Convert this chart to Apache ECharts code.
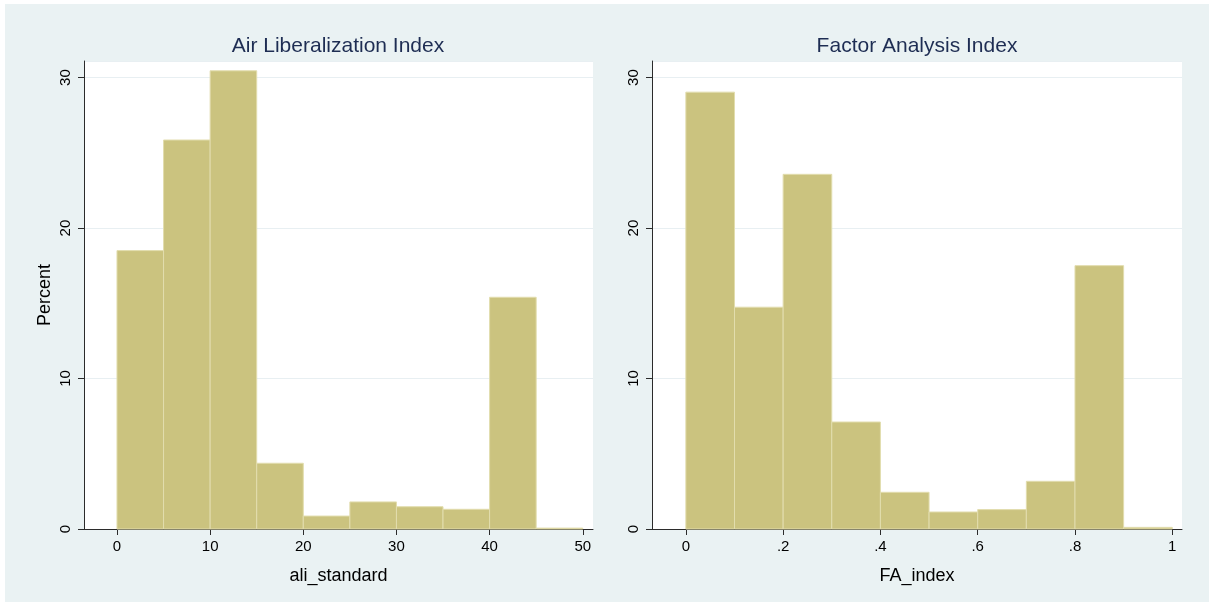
<!DOCTYPE html>
<html>
<head>
<meta charset="utf-8">
<script src="https://cdn.jsdelivr.net/npm/echarts@6/dist/echarts.min.js"></script>
<style>
html,body{margin:0;padding:0;background:#fff;}
#c{width:1209px;height:604px;}
</style>
</head>
<body>
<div id="c"></div>
<script>
// Left panel: ali_standard, bin width 5
var aliBinStarts = [0, 5, 10, 15, 20, 25, 30, 35, 40, 45];
var aliPercent   = [18.5, 25.85, 30.45, 4.37, 0.86, 1.8, 1.48, 1.31, 15.4, 0.06];
var aliBinWidth = 5;
var aliTicks = [0, 10, 20, 30, 40, 50];

// Right panel: FA_index, bin width 0.1
var faBinStarts = [0, 0.1, 0.2, 0.3, 0.4, 0.5, 0.6, 0.7, 0.8, 0.9];
var faPercent   = [29.03, 14.74, 23.57, 7.11, 2.44, 1.13, 1.29, 3.17, 17.5, 0.11];
var faBinWidth = 0.1;
var faTicks = [0, 0.2, 0.4, 0.6, 0.8, 1];
var faTickLabels = ['0', '.2', '.4', '.6', '.8', '1'];

var yTicks = [0, 10, 20, 30];

var titles = ['Air Liberalization Index', 'Factor Analysis Index'];
var xNames = ['ali_standard', 'FA_index'];
var yName = 'Percent';

var FONT = '"Liberation Sans", Arial, Helvetica, sans-serif';
var barFill = '#CBC37F';
var barEdge = '#E2DDAE';
var bg = '#EAF2F3';
var axisColor = '#2b2b2b';

function histData(starts, vals, w) {
  return starts.map(function (s, i) { return [s, s + w, vals[i]]; });
}

function renderBin(params, api) {
  var p0 = api.coord([api.value(0), api.value(2)]);
  var p1 = api.coord([api.value(1), 0]);
  return {
    type: 'rect',
    shape: { x: p0[0], y: p0[1], width: p1[0] - p0[0], height: p1[1] - p0[1] },
    style: { fill: barFill, stroke: barEdge, lineWidth: 1 }
  };
}

function yAxisCfg(gridIndex, showName) {
  return {
    type: 'value', gridIndex: gridIndex, min: 0, max: 31.1, interval: 10,
    name: showName ? yName : '', nameLocation: 'middle', nameGap: 30,
    nameTextStyle: { fontFamily: FONT, fontSize: 18, color: '#000' },
    axisLine: { show: true, onZero: false, lineStyle: { color: axisColor, width: 1 } },
    axisTick: { show: true, length: 6, lineStyle: { color: axisColor } },
    axisLabel: {
      rotate: 90, margin: 11, fontFamily: FONT, fontSize: 15, color: '#000',
      showMaxLabel: false,
      formatter: function (v) { return yTicks.indexOf(v) >= 0 ? String(v) : ''; }
    },
    splitLine: { show: true, lineStyle: { color: '#E8EFF2', width: 1 } }
  };
}

function xAxisCfg(gridIndex, min, max, interval, ticks, labels, name) {
  return {
    type: 'value', gridIndex: gridIndex, min: min, max: max,
    interval: interval,
    name: name, nameLocation: 'middle', nameGap: 38,
    nameTextStyle: { fontFamily: FONT, fontSize: 18, color: '#000' },
    axisLine: { show: true, onZero: false, lineStyle: { color: axisColor, width: 1 } },
    axisTick: { show: true, length: 6, lineStyle: { color: axisColor },
      customValues: ticks },
    axisLabel: {
      margin: 10, fontFamily: FONT, fontSize: 15, color: '#000',
      customValues: ticks,
      formatter: function (v) {
        var k = -1;
        for (var i = 0; i < ticks.length; i++) { if (Math.abs(ticks[i] - v) < 1e-9) k = i; }
        return k >= 0 ? labels[k] : '';
      }
    },
    splitLine: { show: false }
  };
}

var chart = echarts.init(document.getElementById('c'), null, { renderer: 'canvas' });
var option = {
  backgroundColor: '#ffffff',
  animation: false,
  graphic: [
    { type: 'rect', z: -10, silent: true,
      shape: { x: 5, y: 4, width: 1204, height: 598 }, style: { fill: bg } },
    { type: 'rect', z: -9, silent: true,
      shape: { x: 84, y: 61, width: 509, height: 468 }, style: { fill: '#ffffff' } },
    { type: 'rect', z: -9, silent: true,
      shape: { x: 652, y: 61, width: 530, height: 468 }, style: { fill: '#ffffff' } },
    { type: 'text', x: 338, y: 46, z: 10,
      style: { text: titles[0], textAlign: 'center', textVerticalAlign: 'middle',
        font: '21px ' + FONT, fill: '#1E2D53' } },
    { type: 'text', x: 917, y: 46, z: 10,
      style: { text: titles[1], textAlign: 'center', textVerticalAlign: 'middle',
        font: '21px ' + FONT, fill: '#1E2D53' } }
  ],
  grid: [
    { left: 84, top: 61, width: 509, height: 468, containLabel: false },
    { left: 652, top: 61, width: 530, height: 468, containLabel: false }
  ],
  xAxis: [
    xAxisCfg(0, -3.54, 51.1, 10, aliTicks, aliTicks.map(String), xNames[0]),
    xAxisCfg(1, -0.0696, 1.02, 0.2, faTicks, faTickLabels, xNames[1])
  ],
  yAxis: [ yAxisCfg(0, true), yAxisCfg(1, false) ],
  series: [
    { type: 'custom', xAxisIndex: 0, yAxisIndex: 0, renderItem: renderBin,
      encode: { x: [0, 1], y: 2 }, data: histData(aliBinStarts, aliPercent, aliBinWidth) },
    { type: 'custom', xAxisIndex: 1, yAxisIndex: 1, renderItem: renderBin,
      encode: { x: [0, 1], y: 2 }, data: histData(faBinStarts, faPercent, faBinWidth) }
  ]
};
chart.setOption(option);
</script>
</body>
</html>
